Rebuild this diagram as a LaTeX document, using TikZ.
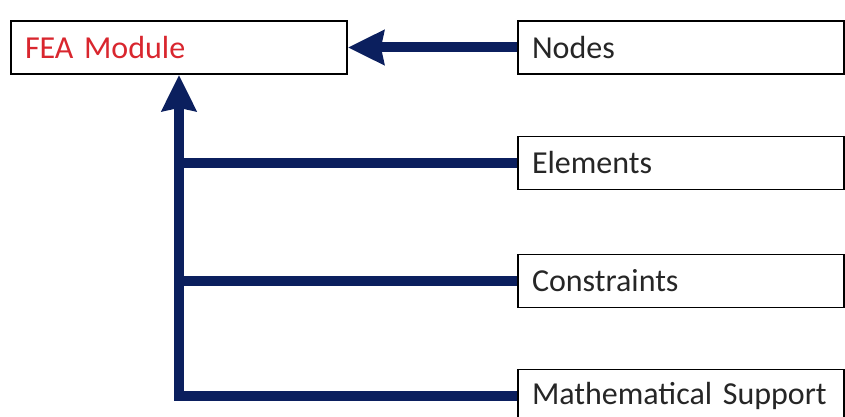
\documentclass[tikz,border=0pt]{standalone}
\usepackage{fontspec}
\setmainfont{Carlito}
\usetikzlibrary{arrows.meta}
\definecolor{navy}{HTML}{0B1F5E}
\definecolor{modred}{HTML}{D9262E}
\definecolor{boxtext}{HTML}{262626}
\tikzset{
  box/.style={draw=black, line width=1.8pt, fill=white, minimum height=53pt,
    inner xsep=14pt, inner ysep=0pt, align=left, text=boxtext,
    font=\fontsize{32}{38}\selectfont},
  conn/.style={draw=navy, line width=10pt, line join=miter},
  head/.style={-{Stealth[length=36pt, width=34pt, inset=3pt]}}
}
\begin{document}
\begin{tikzpicture}[x=1pt, y=-1pt]
  \clip (0,0) rectangle (845,417);
  \fill[white] (0,0) rectangle (845,417);

  % module box and the four input boxes
  \node[box, text=modred, minimum width=336pt, text width=308pt] (fea) at (179,47.5) {FEA Module};
  \node[box, minimum width=326pt, text width=298pt] (nodes) at (681,47.5) {Nodes};
  \node[box, minimum width=326pt, text width=298pt] (elem) at (681,163) {Elements};
  \node[box, minimum width=326pt, text width=298pt] (cons) at (681,281) {Constraints};
  \node[box, minimum width=326pt, text width=298pt] (math) at (681,396) {Mathematical Support};

  % connectors
  \draw[conn, head] (nodes.west) -- (fea.east);
  \draw[conn, head] (math.west) -| (fea.south);
  \draw[conn] (elem.west) -- (elem.west -| fea.south);
  \draw[conn] (cons.west) -- (cons.west -| fea.south);
\end{tikzpicture}
\end{document}
